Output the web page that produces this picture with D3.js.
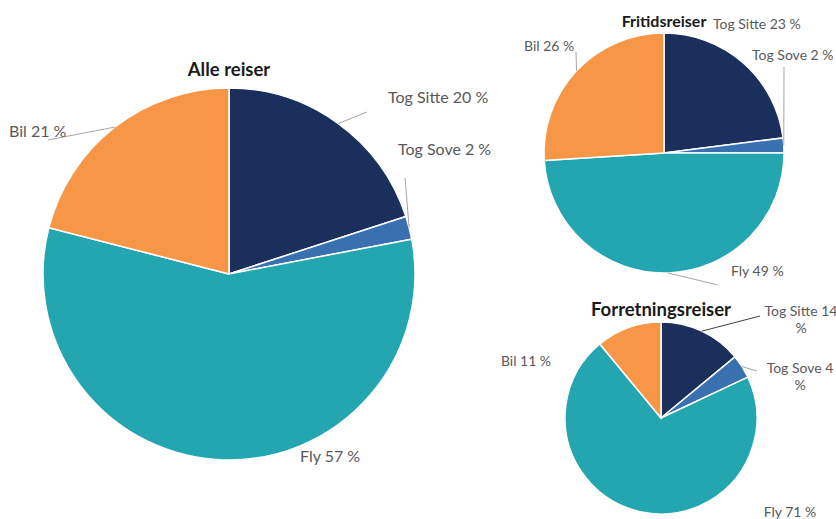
<!DOCTYPE html>
<html>
<head>
    <meta charset="utf-8" />
    <title>Reiser</title>
    <script src="https://d3js.org/d3.v7.min.js"></script>
    <style>
        body { margin: 0; background: #fff; }
        text { font-family: Lato, "Open Sans", sans-serif; }
    </style>
</head>
<body>
    <script>
        // data
        var categories = ["Tog Sitte", "Tog Sove", "Fly", "Bil"];
        var titles = ["Alle reiser", "Fritidsreiser", "Forretningsreiser"];
        var alleValues = [20, 2, 57, 21];
        var fritidValues = [23, 2, 49, 26];
        var forretningValues = [14, 4, 71, 11];
        var colors = ["#1b2f5c", "#3870b0", "#23a6b0", "#f79646"];

        var w = 836, h = 519;

        // layout of the three pies and their labels
        var pies = [
            {
                values: alleValues, title: titles[0], cx: 229, cy: 274, r: 186,
                titleX: 229, titleY: 76, titleSize: 18.5, labelSize: 16,
                labels: [
                    { x: 388, y: 103, anchor: "start", line: [367, 112] },
                    { x: 398, y: 155, anchor: "start", line: [405, 178] },
                    { x: 300, y: 462, anchor: "start" },
                    { x: 9, y: 137, anchor: "start", line: [48, 140] }
                ]
            },
            {
                values: fritidValues, title: titles[1], cx: 664, cy: 153, r: 120,
                titleX: 664, titleY: 27, titleSize: 16, labelSize: 14,
                labels: [
                    { x: 713, y: 29, anchor: "start" },
                    { x: 752, y: 60, anchor: "start", line: [784, 67] },
                    { x: 731, y: 276, anchor: "start", line: [718, 285] },
                    { x: 524, y: 51, anchor: "start", line: [576, 52] }
                ]
            },
            {
                values: forretningValues, title: titles[2], cx: 661, cy: 418, r: 96,
                titleX: 661, titleY: 316, titleSize: 18.5, labelSize: 14,
                labels: [
                    { x: 801, y: 316, anchor: "middle", line: [760, 316], wrap: true },
                    { x: 800, y: 373, anchor: "middle", line: [757, 371], wrap: true },
                    { x: 790, y: 517, anchor: "middle" },
                    { x: 526, y: 366, anchor: "middle" }
                ]
            }
        ];

        var svg = d3.select("body")
            .append("svg")
            .attr("width", w)
            .attr("height", h);

        var pie = d3.pie().sort(null).value(function (d) { return d; });

        pies.forEach(function (p) {
            var g = svg.append("g");
            var arcs = pie(p.values);
            var arc = d3.arc().innerRadius(0).outerRadius(p.r);

            g.append("g")
                .attr("transform", "translate(" + p.cx + "," + p.cy + ")")
                .selectAll("path")
                .data(arcs)
                .enter()
                .append("path")
                .attr("d", arc)
                .attr("fill", function (d, i) { return colors[i]; })
                .attr("stroke", "#fff")
                .attr("stroke-width", 1.5);

            // leader lines
            arcs.forEach(function (a, i) {
                var lab = p.labels[i];
                if (!lab.line) return;
                var mid = (a.startAngle + a.endAngle) / 2;
                var sx = p.cx + p.r * Math.sin(mid);
                var sy = p.cy - p.r * Math.cos(mid);
                g.append("line")
                    .attr("x1", sx).attr("y1", sy)
                    .attr("x2", lab.line[0]).attr("y2", lab.line[1])
                    .attr("stroke", i == 0 && p.title == titles[2] ? "#404040" : "#a6a6a6")
                    .attr("stroke-width", 1);
            });

            // labels
            arcs.forEach(function (a, i) {
                var lab = p.labels[i];
                var t = g.append("text")
                    .attr("x", lab.x)
                    .attr("y", lab.y)
                    .attr("text-anchor", lab.anchor)
                    .attr("font-size", p.labelSize)
                    .attr("fill", "#595959");
                var txt = categories[i] + " " + a.data;
                if (lab.wrap) {
                    t.append("tspan").attr("x", lab.x).text(txt);
                    t.append("tspan").attr("x", lab.x).attr("dy", p.labelSize + 3).text("%");
                } else {
                    t.text(txt + " %");
                }
            });

            g.append("text")
                .attr("x", p.titleX)
                .attr("y", p.titleY)
                .attr("text-anchor", "middle")
                .attr("font-size", p.titleSize)
                .attr("font-weight", "bold")
                .attr("fill", "#1a1a1a")
                .text(p.title);
        });
    </script>
</body>
</html>
